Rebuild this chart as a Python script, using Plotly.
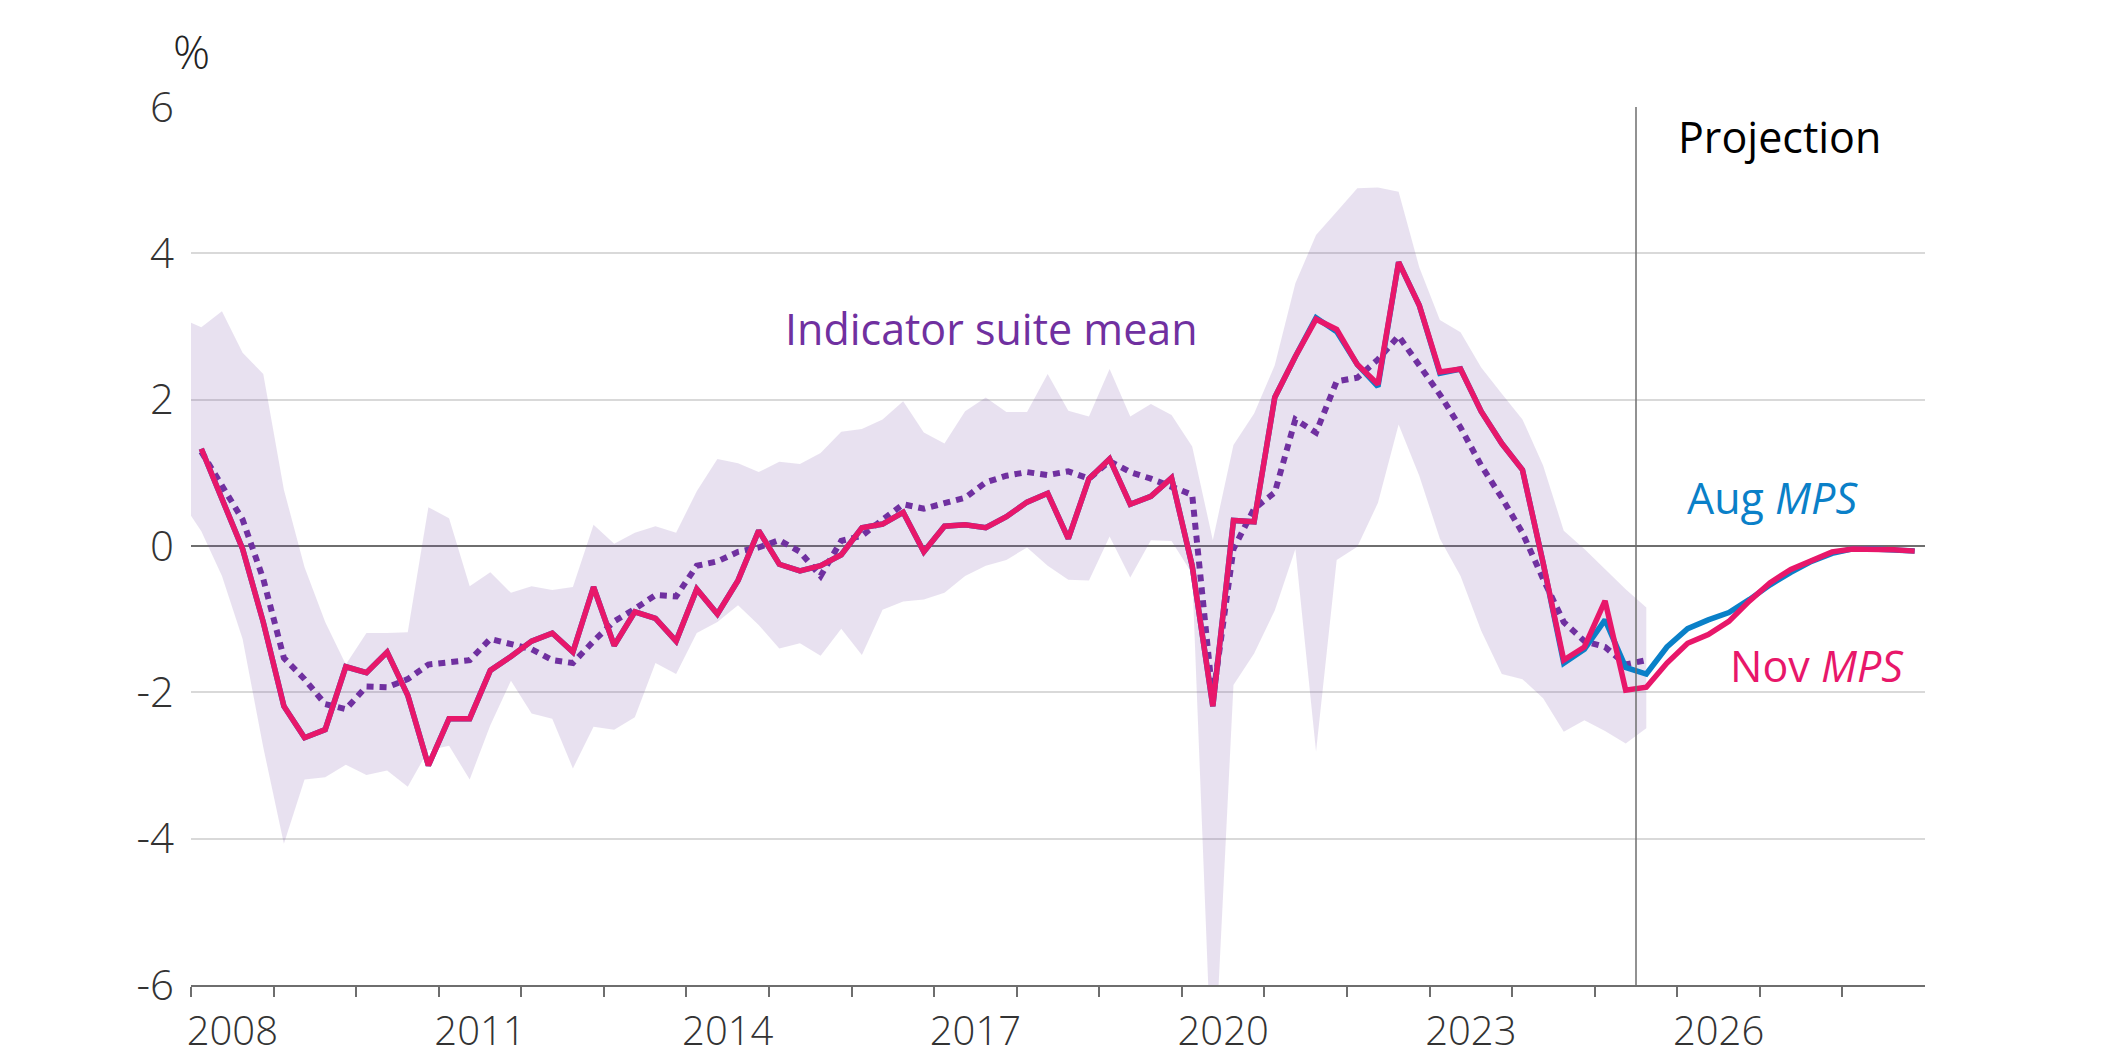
import plotly.graph_objects as go

# ---------------- data ----------------
years = list(range(2008, 2029))
quarters = [f"{y} Q{q}" for y in years for q in range(1, 5)]          # 2008 Q1 .. 2028 Q4
band_quarters = ["2007 Q4"] + quarters[:71]                            # 2007 Q4 .. 2025 Q3

nov_mps = [1.33, 0.66, -0.04, -1.04,
           -2.19, -2.62, -2.51, -1.65,
           -1.73, -1.45, -2.04, -3.00,
           -2.36, -2.36, -1.70, -1.51,
           -1.30, -1.19, -1.45, -0.56,
           -1.36, -0.90, -0.99, -1.30,
           -0.59, -0.93, -0.47, 0.21,
           -0.25, -0.34, -0.27, -0.12,
           0.25, 0.30, 0.46, -0.08,
           0.27, 0.29, 0.25, 0.40,
           0.60, 0.72, 0.10, 0.92,
           1.19, 0.57, 0.68, 0.93,
           -0.27, -2.19, 0.35, 0.33,
           2.03, 2.59, 3.10, 2.96,
           2.48, 2.21, 3.88, 3.29,
           2.38, 2.42, 1.84, 1.40,
           1.04, -0.23, -1.56, -1.38,
           -0.75, -1.97, -1.93, -1.60,
           -1.33, -1.21, -1.03, -0.75,
           -0.50, -0.32, -0.19, -0.08,
           -0.04, -0.04, -0.05, -0.07]

aug_mps = [1.33, 0.66, -0.04, -1.04,
           -2.19, -2.62, -2.51, -1.65,
           -1.73, -1.45, -2.04, -3.00,
           -2.36, -2.36, -1.70, -1.51,
           -1.30, -1.19, -1.45, -0.56,
           -1.36, -0.90, -0.99, -1.30,
           -0.59, -0.93, -0.47, 0.21,
           -0.25, -0.34, -0.27, -0.12,
           0.25, 0.30, 0.46, -0.08,
           0.27, 0.29, 0.25, 0.40,
           0.60, 0.72, 0.10, 0.92,
           1.19, 0.57, 0.68, 0.93,
           -0.27, -2.19, 0.35, 0.33,
           2.03, 2.59, 3.12, 2.93,
           2.48, 2.18, 3.88, 3.29,
           2.36, 2.42, 1.84, 1.40,
           1.04, -0.23, -1.60, -1.41,
           -1.01, -1.66, -1.75, -1.38,
           -1.13, -1.01, -0.91, -0.73,
           -0.53, -0.36, -0.21, -0.10,
           -0.04, -0.04, -0.05, -0.07]

suite_mean = [1.29, 0.81, 0.36, -0.45,
              -1.53, -1.82, -2.16, -2.23,
              -1.92, -1.93, -1.82, -1.62,
              -1.58, -1.56, -1.27, -1.34,
              -1.41, -1.56, -1.60, -1.30,
              -1.03, -0.86, -0.67, -0.69,
              -0.27, -0.21, -0.08, -0.02,
              0.08, -0.08, -0.41, 0.07,
              0.14, 0.36, 0.57, 0.51,
              0.59, 0.66, 0.87, 0.96,
              1.01, 0.97, 1.02, 0.92,
              1.16, 1.01, 0.92, 0.81,
              0.70, -2.08, -0.04, 0.51,
              0.73, 1.73, 1.55, 2.25,
              2.30, 2.55, 2.87, 2.47,
              2.07, 1.62, 1.10, 0.66,
              0.18, -0.45, -1.04, -1.30,
              -1.38, -1.62, -1.56]

suite_high = [3.11,
              2.99, 3.21, 2.64, 2.35,
              0.77, -0.29, -1.04, -1.62,
              -1.19, -1.19, -1.18, 0.53,
              0.38, -0.55, -0.36, -0.64,
              -0.55, -0.60, -0.56, 0.29,
              0.03, 0.18, 0.27, 0.18,
              0.75, 1.19, 1.13, 1.01,
              1.15, 1.12, 1.27, 1.56,
              1.60, 1.73, 1.98, 1.55,
              1.40, 1.84, 2.03, 1.83,
              1.83, 2.35, 1.85, 1.77,
              2.42, 1.77, 1.94, 1.79,
              1.36, 0.08, 1.38, 1.81,
              2.47, 3.59, 4.25, 4.57,
              4.89, 4.90, 4.84, 3.81,
              3.09, 2.92, 2.44, 2.08,
              1.73, 1.10, 0.21, -0.04,
              -0.32, -0.59, -0.84]

suite_low = [0.63,
             0.20, -0.41, -1.27, -2.75,
             -4.07, -3.19, -3.16, -2.99,
             -3.13, -3.07, -3.29, -2.79,
             -2.73, -3.19, -2.45, -1.84,
             -2.29, -2.36, -3.04, -2.47,
             -2.51, -2.34, -1.60, -1.75,
             -1.19, -1.04, -0.81, -1.08,
             -1.40, -1.33, -1.50, -1.13,
             -1.49, -0.87, -0.76, -0.73,
             -0.64, -0.41, -0.27, -0.19,
             -0.02, -0.27, -0.46, -0.47,
             0.13, -0.43, 0.08, 0.07,
             -0.38, -7.60, -1.90, -1.47,
             -0.88, -0.04, -2.81, -0.19,
             -0.01, 0.59, 1.66, 0.96,
             0.10, -0.41, -1.16, -1.75,
             -1.82, -2.08, -2.54, -2.38,
             -2.53, -2.70, -2.49]

x_labels = ["2008", "2011", "2014", "2017", "2020", "2023", "2026"]
y_ticks = [-6, -4, -2, 0, 2, 4, 6]
y_labels = ["-6", "-4", "-2", "0", "2", "4", "6"]
projection_start = "2025 Q3"


def qpos(label):
    """Quarter label -> decimal year at the middle of the quarter."""
    y, q = label.split(" Q")
    return int(y) + (int(q) - 0.5) / 4


x = [qpos(q) for q in quarters]
xb = [qpos(q) for q in band_quarters]
xm = x[:len(suite_mean)]
proj_x = qpos(projection_start) - 0.125

# ---------------- colours / fonts ----------------
PINK = "#E8176A"
BLUE = "#0A80C8"
PURPLE = "#7030A0"
BAND = "rgba(120,80,165,0.17)"
AXIS = "#6e6e6e"
GRID = "#d9d9d9"
FONT = "Open Sans, Noto Sans, sans-serif"

fig = go.Figure()
fig.add_trace(go.Scatter(x=xb, y=suite_low, mode="lines", line=dict(width=0),
                         hoverinfo="skip", showlegend=False))
fig.add_trace(go.Scatter(x=xb, y=suite_high, mode="lines", line=dict(width=0),
                         fill="tonexty", fillcolor=BAND, hoverinfo="skip",
                         showlegend=False))
fig.add_trace(go.Scatter(x=xm, y=suite_mean, mode="lines",
                         line=dict(color=PURPLE, width=6, dash="7px,6px"),
                         showlegend=False))
fig.add_trace(go.Scatter(x=x, y=aug_mps, mode="lines",
                         line=dict(color=BLUE, width=5.5), showlegend=False))
fig.add_trace(go.Scatter(x=x, y=nov_mps, mode="lines",
                         line=dict(color=PINK, width=5.5), showlegend=False))

fig.add_shape(type="line", x0=proj_x, x1=proj_x, y0=-6, y1=6, xref="x", yref="y",
              line=dict(color=AXIS, width=1.5), layer="above")

fig.update_layout(
    width=2116, height=1059,
    margin=dict(l=191, r=191, t=107, b=74, autoexpand=False),
    paper_bgcolor="white", plot_bgcolor="white",
    font=dict(family=FONT, color="#222222"),
    xaxis=dict(range=[2008, 2029], tickvals=[int(v) + 0.5 for v in x_labels],
               ticktext=x_labels, ticks="", showgrid=False, zeroline=False,
               showline=True, linecolor=AXIS, linewidth=2, automargin=False,
               tickfont=dict(size=40, color="#333333", family=FONT, weight=300),
               ticklabelstandoff=10,
               minor=dict(tickvals=years, ticks="outside", ticklen=10,
                          tickwidth=1.5, tickcolor=AXIS, showgrid=False)),
    yaxis=dict(range=[-6, 6], tickvals=y_ticks, ticktext=y_labels, ticks="",
               showgrid=True, gridcolor=GRID, gridwidth=1.5,
               zeroline=True, zerolinecolor=AXIS, zerolinewidth=2,
               showline=False, automargin=False,
               tickfont=dict(size=42, color="#333333", family=FONT, weight=300),
               ticklabelstandoff=16),
)

ann = dict(showarrow=False, xanchor="center", yanchor="middle")
fig.add_annotation(text="%", xref="paper", yref="paper", x=0, y=1.064,
                   font=dict(size=46, color="#222222", family=FONT, weight=300), **ann)
fig.add_annotation(text="Indicator suite mean", x=2017.69, y=2.97,
                   font=dict(size=43, color=PURPLE, family=FONT), **ann)
fig.add_annotation(text="Projection", x=2027.24, y=5.60,
                   font=dict(size=43, color="black", family=FONT), **ann)
fig.add_annotation(text="Aug <i>MPS</i>", x=2027.15, y=0.66,
                   font=dict(size=43, color=BLUE, family=FONT), **ann)
fig.add_annotation(text="Nov <i>MPS</i>", x=2027.69, y=-1.63,
                   font=dict(size=43, color=PINK, family=FONT), **ann)

fig.write_html("out.html")
